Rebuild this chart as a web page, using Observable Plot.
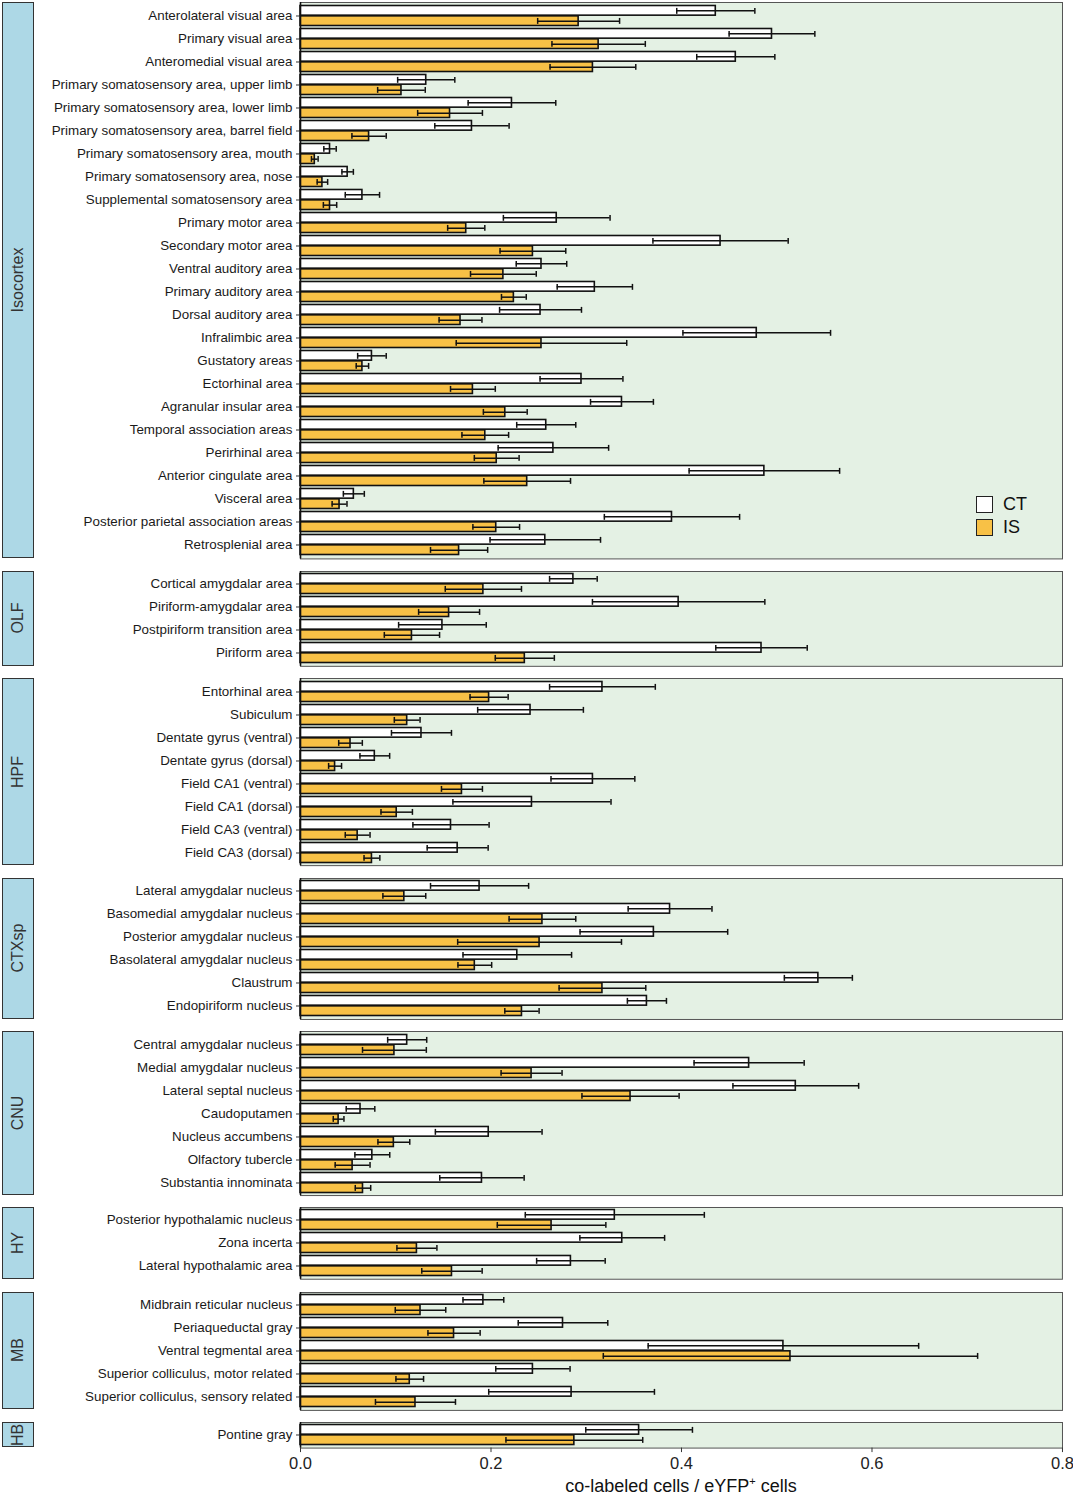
<!DOCTYPE html>
<html>
<head>
<meta charset="utf-8">
<script src="https://cdn.jsdelivr.net/npm/d3@7"></script>
<script src="https://cdn.jsdelivr.net/npm/@observablehq/plot@0.6"></script>
<style>
  body { margin: 0; background: #fff; font-family: "Liberation Sans", Arial, sans-serif; }
  #chart { position: relative; width: 1073px; }
  .panel { position: relative; }
  .panel svg { display: block; }
  .strip { position: absolute; left: 2px; width: 32px; box-sizing: border-box; background: #ADD8E6;
           border: 1px solid #333; display: flex; align-items: center; justify-content: center; }
  .strip span { transform: rotate(-90deg); white-space: nowrap; font-size: 16px; color: #333; }
  .legend { position: absolute; left: 976px; top: 493px; font-size: 18px; color: #111; }
  .legend .item { display: flex; align-items: center; height: 23px; }
  .legend .box { width: 17px; height: 17px; box-sizing: border-box; border: 1.5px solid #222; margin-right: 10px; }
  .xlabel { margin-left: 300px; width: 762px; text-align: center; font-size: 18px; color: #111; line-height: 20px; margin-top: 0.5px; }
  .xlabel sup { font-size: 11px; line-height: 0; }
</style>
</head>
<body>
<div id="chart"></div>
<script>
// ---- data ----
const groups = ["Isocortex", "OLF", "HPF", "CTXsp", "CNU", "HY", "MB", "HB"];
const series = ["CT", "IS"];
const xTicks = [0, 0.2, 0.4, 0.6, 0.8];

const regions = [
  "Anterolateral visual area", "Primary visual area", "Anteromedial visual area",
  "Primary somatosensory area, upper limb", "Primary somatosensory area, lower limb",
  "Primary somatosensory area, barrel field", "Primary somatosensory area, mouth",
  "Primary somatosensory area, nose", "Supplemental somatosensory area", "Primary motor area",
  "Secondary motor area", "Ventral auditory area", "Primary auditory area", "Dorsal auditory area",
  "Infralimbic area", "Gustatory areas", "Ectorhinal area", "Agranular insular area",
  "Temporal association areas", "Perirhinal area", "Anterior cingulate area", "Visceral area",
  "Posterior parietal association areas", "Retrosplenial area",
  "Cortical amygdalar area", "Piriform-amygdalar area", "Postpiriform transition area", "Piriform area",
  "Entorhinal area", "Subiculum", "Dentate gyrus (ventral)", "Dentate gyrus (dorsal)",
  "Field CA1 (ventral)", "Field CA1 (dorsal)", "Field CA3 (ventral)", "Field CA3 (dorsal)",
  "Lateral amygdalar nucleus", "Basomedial amygdalar nucleus", "Posterior amygdalar nucleus",
  "Basolateral amygdalar nucleus", "Claustrum", "Endopiriform nucleus",
  "Central amygdalar nucleus", "Medial amygdalar nucleus", "Lateral septal nucleus", "Caudoputamen",
  "Nucleus accumbens", "Olfactory tubercle", "Substantia innominata",
  "Posterior hypothalamic nucleus", "Zona incerta", "Lateral hypothalamic area",
  "Midbrain reticular nucleus", "Periaqueductal gray", "Ventral tegmental area",
  "Superior colliculus, motor related", "Superior colliculus, sensory related",
  "Pontine gray"
];
const regionGroup = [
  ...Array(24).fill("Isocortex"), ...Array(4).fill("OLF"), ...Array(8).fill("HPF"),
  ...Array(6).fill("CTXsp"), ...Array(7).fill("CNU"), ...Array(3).fill("HY"),
  ...Array(5).fill("MB"), "HB"
];
const ctMean = [
  0.436, 0.495, 0.457, 0.132, 0.222, 0.180, 0.031, 0.0495, 0.065, 0.269,
  0.441, 0.253, 0.309, 0.252, 0.479, 0.075, 0.295, 0.3375, 0.258, 0.2655,
  0.487, 0.056, 0.390, 0.257,
  0.2865, 0.397, 0.149, 0.484,
  0.317, 0.2415, 0.127, 0.078, 0.307, 0.243, 0.158, 0.165,
  0.188, 0.388, 0.371, 0.2276, 0.5437, 0.3637,
  0.112, 0.471, 0.520, 0.063, 0.1976, 0.0754, 0.1905,
  0.330, 0.3378, 0.2839,
  0.192, 0.2756, 0.507, 0.244, 0.2846,
  0.3555
];
const ctSE = [
  0.041, 0.045, 0.041, 0.030, 0.046, 0.039, 0.0065, 0.006, 0.018, 0.056,
  0.071, 0.0265, 0.0395, 0.043, 0.0775, 0.015, 0.0435, 0.033, 0.031, 0.058,
  0.079, 0.011, 0.071, 0.058,
  0.025, 0.0905, 0.046, 0.048,
  0.0555, 0.0555, 0.0315, 0.0156, 0.044, 0.083, 0.040, 0.032,
  0.0515, 0.044, 0.0775, 0.057, 0.0357, 0.0205,
  0.0205, 0.0578, 0.066, 0.015, 0.056, 0.0183, 0.0443,
  0.094, 0.0445, 0.036,
  0.0214, 0.047, 0.142, 0.039, 0.087,
  0.056
];
const isMean = [
  0.292, 0.313, 0.307, 0.106, 0.157, 0.072, 0.015, 0.023, 0.031, 0.174,
  0.244, 0.213, 0.224, 0.168, 0.253, 0.065, 0.181, 0.215, 0.194, 0.206,
  0.238, 0.041, 0.2055, 0.1665,
  0.192, 0.156, 0.117, 0.2355,
  0.198, 0.112, 0.0525, 0.0363, 0.1695, 0.101, 0.060, 0.075,
  0.109, 0.254, 0.251, 0.183, 0.317, 0.2325,
  0.0986, 0.2426, 0.3465, 0.040, 0.098, 0.0547, 0.0656,
  0.2636, 0.1222, 0.159,
  0.126, 0.1612, 0.5144, 0.1147, 0.1207,
  0.2875
];
const isSE = [
  0.043, 0.049, 0.045, 0.025, 0.034, 0.018, 0.0035, 0.0055, 0.007, 0.0195,
  0.0345, 0.0345, 0.013, 0.0225, 0.0895, 0.0065, 0.0235, 0.023, 0.0245, 0.0235,
  0.0455, 0.0078, 0.0245, 0.030,
  0.040, 0.032, 0.029, 0.031,
  0.020, 0.0135, 0.0124, 0.0068, 0.0215, 0.0165, 0.013, 0.0083,
  0.0225, 0.035, 0.086, 0.0177, 0.0455, 0.018,
  0.0335, 0.032, 0.051, 0.0056, 0.0167, 0.0183, 0.0081,
  0.057, 0.021, 0.0317,
  0.0265, 0.0274, 0.1965, 0.0145, 0.042,
  0.0718
];

// ---- styling / layout ----
const COLORS = {CT: "#FFFFFF", IS: "#F8C146"};
const GREEN = "#E4F1E4";
const STEP = 23.08;      // px per region row
const INSET = 1.25;      // inner padding of each panel
const GAP = 12.4;        // gap between panels
const FONT = "'Liberation Sans', Arial, sans-serif";
const half = STEP / 2;

const rows = regions.map((r, i) => ({
  region: r, group: regionGroup[i],
  ct: ctMean[i], ctLo: ctMean[i] - ctSE[i], ctHi: ctMean[i] + ctSE[i],
  is: isMean[i], isLo: isMean[i] - isSE[i], isHi: isMean[i] + isSE[i]
}));

const chart = document.getElementById("chart");

groups.forEach((g, gi) => {
  const sub = rows.filter(d => d.group === g);
  const n = sub.length;
  const isFirst = gi === 0, isLast = gi === groups.length - 1;
  const marginTop = isFirst ? 2 : 0;
  const marginBottom = isLast ? 28 : GAP;
  const panelH = n * STEP + 2 * INSET;
  const height = marginTop + panelH + marginBottom;

  const barCT = {insetTop: 1.5, insetBottom: half + 0.3};
  const barIS = {insetTop: half + 0.3, insetBottom: 1.5};
  const capCT = {insetTop: 3.9, insetBottom: STEP - 9.9};
  const capIS = {insetTop: half + 2.4, insetBottom: STEP - (half + 8.4)};
  const dyCT = -(half - (1.5 + (half - 1.8) / 2));
  const dyIS = (half + 0.3 + (half - 1.8) / 2) - half;
  const line = {stroke: "#111", strokeWidth: 1.5};

  const marks = [
    Plot.frame({fill: GREEN, stroke: "#555", strokeWidth: 1}),
    Plot.barX(sub, {y: "region", x: "ct", fill: COLORS.CT, stroke: "#111", strokeWidth: 1.6, ...barCT}),
    Plot.barX(sub, {y: "region", x: "is", fill: COLORS.IS, stroke: "#111", strokeWidth: 1.6, ...barIS}),
    Plot.ruleY(sub, {y: "region", x1: "ctLo", x2: "ctHi", dy: dyCT, ...line}),
    Plot.ruleY(sub, {y: "region", x1: "isLo", x2: "isHi", dy: dyIS, ...line}),
    Plot.tickX(sub, {y: "region", x: "ctLo", ...capCT, ...line}),
    Plot.tickX(sub, {y: "region", x: "ctHi", ...capCT, ...line}),
    Plot.tickX(sub, {y: "region", x: "isLo", ...capIS, ...line}),
    Plot.tickX(sub, {y: "region", x: "isHi", ...capIS, ...line}),
    Plot.ruleX([0], {stroke: "#111", strokeWidth: 1.6}),
    Plot.axisY({tickSize: 4, tickPadding: 4, label: null, fontSize: 13.4, fill: "#1a1a1a", stroke: "#333"})
  ];
  if (isLast) {
    marks.push(Plot.axisX({ticks: xTicks, tickFormat: ".1f", tickSize: 4.5, tickPadding: 5, label: null,
                           fontSize: 16.5, fill: "#222", stroke: "#333"}));
  }

  const svg = Plot.plot({
    width: 1073, height, marginLeft: 300, marginRight: 11, marginTop, marginBottom,
    style: {fontFamily: FONT, background: "transparent", color: "#1a1a1a", overflow: "visible"},
    x: {domain: [0, 0.8], axis: isLast ? undefined : null},
    y: {domain: sub.map(d => d.region), padding: 0, insetTop: INSET, insetBottom: INSET},
    marks
  });

  const panel = document.createElement("div");
  panel.className = "panel";
  panel.appendChild(svg);

  const strip = document.createElement("div");
  strip.className = "strip";
  strip.style.top = marginTop + "px";
  strip.style.height = panelH + "px";
  const sp = document.createElement("span");
  sp.textContent = g;
  strip.appendChild(sp);
  panel.appendChild(strip);

  if (isFirst) {
    const legend = document.createElement("div");
    legend.className = "legend";
    series.forEach(s => {
      const item = document.createElement("div");
      item.className = "item";
      const box = document.createElement("div");
      box.className = "box";
      box.style.background = COLORS[s];
      const lab = document.createElement("span");
      lab.textContent = s;
      item.appendChild(box);
      item.appendChild(lab);
      legend.appendChild(item);
    });
    panel.appendChild(legend);
  }
  chart.appendChild(panel);
});

const xl = document.createElement("div");
xl.className = "xlabel";
xl.innerHTML = "co-labeled cells / eYFP<sup>+</sup> cells";
chart.appendChild(xl);
</script>
</body>
</html>
